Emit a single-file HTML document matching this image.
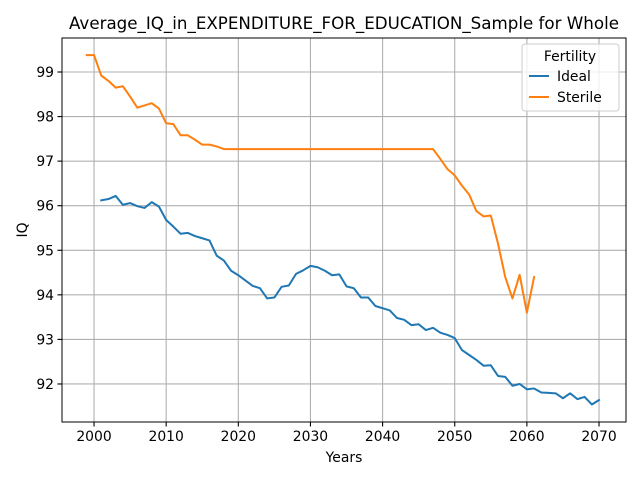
<!DOCTYPE html>
<html><head><meta charset="utf-8"><style>
body{margin:0;background:#fff;}
svg{display:block;font-family:"DejaVu Sans","Liberation Sans",sans-serif;}
</style></head><body>
<svg id="chart" width="640" height="480" viewBox="0 0 640 480">
<rect width="640" height="480" fill="#fff"/>
<text x="344" y="29" font-size="16.7" text-anchor="middle">Average_IQ_in_EXPENDITURE_FOR_EDUCATION_Sample for Whole</text>
<g id="grid"></g>
<g id="series"></g>
<rect x="62" y="38" width="564" height="384" fill="none" stroke="#000" stroke-width="1"/>
<g id="ticks" font-size="13.9"></g>
<text x="344" y="462" font-size="13.9" text-anchor="middle">Years</text>
<text x="27" y="230" font-size="13.9" text-anchor="middle" transform="rotate(-90 27 230)">IQ</text>
<g>
<rect x="522" y="44" width="97" height="67" rx="3" fill="#fff" fill-opacity="0.8" stroke="#ccc"/>
<text x="570" y="61" font-size="13.9" text-anchor="middle">Fertility</text>
<line x1="529" y1="76" x2="549" y2="76" stroke="#1f77b4" stroke-width="2"/>
<text x="557" y="81" font-size="13.9">Ideal</text>
<line x1="529" y1="97" x2="549" y2="97" stroke="#ff7f0e" stroke-width="2"/>
<text x="557" y="102" font-size="13.9">Sterile</text>
</g>
</svg>
<script>
const idealYears=[2001,2002,2003,2004,2005,2006,2007,2008,2009,2010,2011,2012,2013,2014,2015,2016,2017,2018,2019,2020,2021,2022,2023,2024,2025,2026,2027,2028,2029,2030,2031,2032,2033,2034,2035,2036,2037,2038,2039,2040,2041,2042,2043,2044,2045,2046,2047,2048,2049,2050,2051,2052,2053,2054,2055,2056,2057,2058,2059,2060,2061,2062,2063,2064,2065,2066,2067,2068,2069,2070];
const idealValues=[96.12,96.15,96.22,96.02,96.06,95.99,95.95,96.08,95.98,95.68,95.53,95.37,95.39,95.32,95.27,95.22,94.88,94.77,94.54,94.44,94.32,94.2,94.15,93.92,93.94,94.18,94.21,94.47,94.55,94.65,94.62,94.54,94.44,94.46,94.19,94.15,93.94,93.94,93.75,93.7,93.65,93.48,93.44,93.32,93.34,93.21,93.26,93.15,93.1,93.03,92.76,92.65,92.54,92.41,92.42,92.18,92.16,91.96,92.0,91.88,91.9,91.81,91.8,91.79,91.68,91.79,91.66,91.71,91.54,91.64];
const sterileYears=[1999,2000,2001,2002,2003,2004,2005,2006,2007,2008,2009,2010,2011,2012,2013,2014,2015,2016,2017,2018,2047,2048,2049,2050,2051,2052,2053,2054,2055,2056,2057,2058,2059,2060,2061];
const sterileValues=[99.38,99.38,98.92,98.8,98.65,98.68,98.45,98.2,98.25,98.3,98.18,97.85,97.83,97.58,97.58,97.48,97.37,97.37,97.33,97.27,97.27,97.05,96.82,96.68,96.45,96.25,95.88,95.76,95.78,95.15,94.4,93.92,94.45,93.6,94.4];
const xTicks=[2000,2010,2020,2030,2040,2050,2060,2070];
const yTicks=[92,93,94,95,96,97,98,99];

const NS="http://www.w3.org/2000/svg";
const X0=62,X1=626,Y0=38,Y1=422;
const xMin=1995.56,xMax=2073.74,yMin=91.147,yMax=99.763;
function sx(v){return X0+(v-xMin)/(xMax-xMin)*(X1-X0);}
function sy(v){return Y1-(v-yMin)/(yMax-yMin)*(Y1-Y0);}
function mk(tag,attrs,parent){const e=document.createElementNS(NS,tag);for(const k in attrs)e.setAttribute(k,attrs[k]);parent.appendChild(e);return e;}
const grid=document.getElementById('grid'),ticks=document.getElementById('ticks'),series=document.getElementById('series');
xTicks.forEach(t=>{const x=sx(t);
 const g=mk('line',{x1:x,x2:x,y1:Y0,y2:Y1,stroke:'#b0b0b0','stroke-width':1.1},grid);
 
 
 mk('line',{x1:x,x2:x,y1:Y1,y2:Y1+4.5,stroke:'#000','stroke-width':1.1},ticks);
 const tx=mk('text',{x:x,y:Y1+19,'text-anchor':'middle'},ticks);tx.textContent=t;
 
 
});
yTicks.forEach(t=>{const y=sy(t);
 const g=mk('line',{x1:X0,x2:X1,y1:y,y2:y,stroke:'#b0b0b0','stroke-width':1.1},grid);
 
 
 mk('line',{x1:X0-4.5,x2:X0,y1:y,y2:y,stroke:'#000','stroke-width':1.1},ticks);
 const tx=mk('text',{x:X0-8,y:y+5,'text-anchor':'end'},ticks);tx.textContent=t;
 
 
});
function line(xs,vs,color,name){
 const d=xs.map((x,i)=>(i?'L':'M')+sx(x).toFixed(2)+' '+sy(vs[i]).toFixed(2)).join(' ');
 const p=mk('path',{d:d,fill:'none',stroke:color,'stroke-width':2,'stroke-linejoin':'round','stroke-linecap':'square'},series);
 
 
}
line(idealYears,idealValues,'#1f77b4','line-ideal');
line(sterileYears,sterileValues,'#ff7f0e','line-sterile');
</script>
</body></html>
